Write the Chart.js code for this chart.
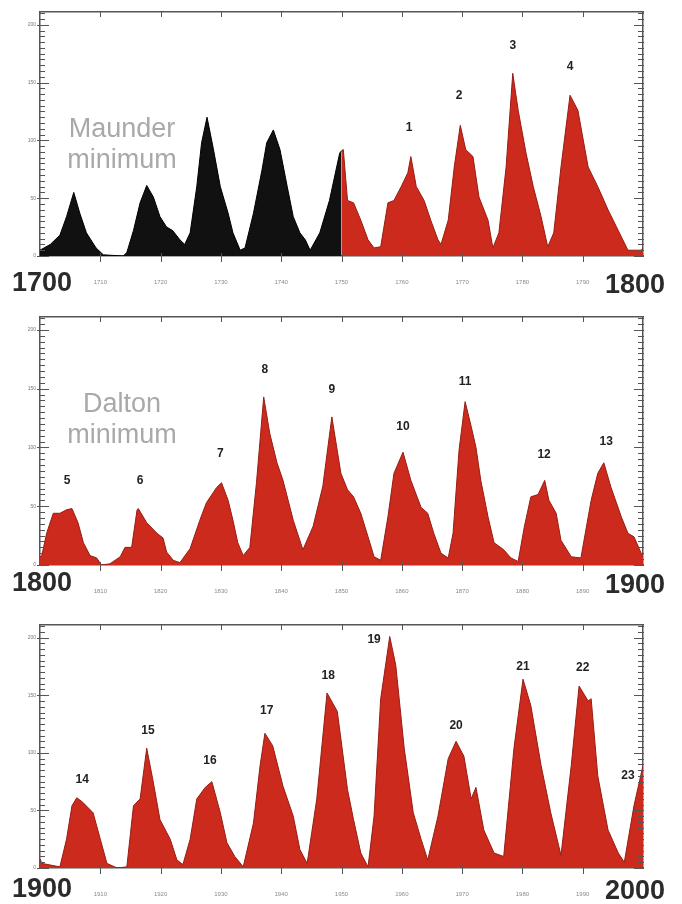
<!DOCTYPE html>
<html>
<head>
<meta charset="utf-8">
<title>Sunspot cycles 1700-2000</title>
<script src="https://cdn.jsdelivr.net/npm/chart.js@4.4.0/dist/chart.umd.min.js"></script>
<style>
  html, body { margin: 0; padding: 0; background: #fff; }
  #wrap { position: relative; width: 682px; height: 904px; overflow: hidden; }
  canvas { position: absolute; left: 0; }
</style>
</head>
<body>
<div id="wrap">
  <canvas id="c1" width="682" height="300" style="top:0"></canvas>
  <canvas id="c2" width="682" height="300" style="top:300px"></canvas>
  <canvas id="c3" width="682" height="304" style="top:600px"></canvas>
</div>
<script>
// --- data: smoothed sunspot number ---
const years1 = [1700, 1701.7, 1703.3, 1704.4, 1705.6, 1706.6, 1707.7, 1709.3, 1710.5, 1713.8, 1714.4, 1715.5, 1716.6, 1717.7, 1718.8, 1719.9,
  1721, 1722, 1723.2, 1724, 1724.9, 1726, 1726.8, 1727.7, 1728.7, 1729.9, 1731.2, 1732, 1733.2, 1734, 1735.4, 1736.8, 1737.6,
  1738.7, 1739.8, 1741, 1742, 1743.1, 1744, 1744.8, 1746.4, 1748, 1749.7, 1750, 1750.3, 1751, 1752, 1753.2, 1754.4, 1755.4,
  1756.5, 1757.7, 1758.7, 1759.9, 1761, 1761.5, 1762.4, 1763.7, 1764.8, 1766, 1766.5, 1767.7, 1768.7, 1769.7, 1770.6, 1771.8,
  1772.8, 1774.3, 1775.1, 1776.1, 1777.3, 1778.4, 1779.3, 1780.6, 1781.8, 1783.1, 1784.2, 1785.2, 1786.4, 1787.9, 1789.2,
  1790.9, 1792.5, 1794.2, 1795.9, 1797.5, 1799.7, 1800];
const ssn1 = [5, 10, 18, 34, 55, 37, 20, 7, 1, 0, 3, 22, 46, 61, 51, 34,
  25, 22, 14, 10, 20, 60, 98, 120, 94, 60, 37, 20, 5, 7, 37, 74, 98,
  109, 92, 60, 34, 20, 14, 5, 20, 48, 89, 91, 92, 48, 46, 31, 14, 7,
  8, 46, 48, 60, 72, 86, 60, 48, 31, 14, 10, 31, 77, 113, 92, 86,
  51, 31, 7, 20, 77, 158, 126, 89, 60, 34, 8, 20, 77, 139, 126,
  77, 60, 40, 22, 5, 5, 7];

const years2 = [1800, 1800.3, 1801.1, 1802.2, 1803.3, 1804.4, 1805.3, 1806.3, 1807.2, 1808.3, 1809.4, 1810.2, 1811.6, 1813.3,
  1814.1, 1815.2, 1816.1, 1816.3, 1817.7, 1819.4, 1820.4, 1821, 1822.1, 1823.2, 1824.9, 1826.5, 1827.6, 1829.3, 1830.1,
  1831.2, 1832, 1832.8, 1833.7, 1834.8, 1835.9, 1837.1, 1838.1, 1839.3, 1840.3, 1842, 1843.6, 1845.3, 1846.9, 1848.4,
  1849.9, 1851, 1852, 1853.2, 1854.4, 1855.4, 1856.5, 1857.7, 1858.7, 1860.2, 1861.5, 1863.2, 1864.3, 1865.3, 1866.5,
  1867.7, 1868.5, 1869.5, 1870.5, 1871.5, 1872.3, 1873.1, 1874.3, 1875.3, 1876.9, 1878.1, 1879.3, 1880.3, 1881.4, 1882.6,
  1883.7, 1884.4, 1885.6, 1886.4, 1888.1, 1889.7, 1891.4, 1892.5, 1893.5, 1894.7, 1896.4, 1897.5, 1898.5, 1899.7, 1900];
const ssn2 = [7, 8, 27, 44, 44, 47, 48, 36, 19, 8, 6, 0, 1, 7,
  15, 15, 47, 48, 36, 27, 23, 11, 4, 2, 14, 38, 53, 66, 70,
  55, 38, 19, 8, 15, 70, 143, 112, 87, 72, 38, 13, 33, 67, 126,
  78, 64, 58, 44, 24, 7, 4, 41, 78, 96, 72, 49, 44, 27, 10,
  6, 27, 98, 139, 118, 100, 72, 41, 19, 13, 6, 3, 32, 58, 60,
  72, 55, 44, 21, 7, 6, 55, 78, 87, 66, 41, 27, 24, 10, 8];

const years3 = [1900, 1900.3, 1903.3, 1904.4, 1905.3, 1906.1, 1907.1, 1908.8, 1910, 1911.1, 1912.8, 1914.4, 1915.5, 1916.6,
  1917.7, 1918.7, 1919.9, 1921.6, 1922.7, 1923.7, 1924.9, 1926, 1927.4, 1928.5, 1929.9, 1931, 1932.3, 1933.7, 1935.4,
  1936.5, 1937.3, 1938.6, 1940.3, 1942, 1943.1, 1944.3, 1945.9, 1947.6, 1949.3, 1949.9, 1951, 1952, 1953.2, 1954.4,
  1955.4, 1956.5, 1958, 1959, 1960.4, 1961.9, 1963.2, 1964.3, 1966, 1967.7, 1969, 1970.3, 1971.5, 1972.3, 1973.6, 1975.3,
  1976.9, 1978.6, 1980.1, 1981.4, 1983.1, 1984.7, 1986.4, 1988.1, 1989.4, 1990.9, 1991.4, 1992.5, 1994.2, 1995.9, 1996.9,
  1998.5, 2000];
const ssn3 = [8, 4, 1, 25, 54, 61, 57, 48, 25, 4, 0, 1, 54, 60,
  104, 77, 42, 25, 7, 3, 25, 60, 70, 75, 48, 22, 10, 1, 39,
  89, 117, 106, 71, 45, 16, 4, 60, 152, 136, 112, 68, 42, 13, 1,
  45, 147, 201, 176, 104, 48, 25, 7, 45, 95, 110, 97, 60, 70, 33, 13,
  10, 104, 164, 141, 89, 48, 11, 89, 158, 145, 147, 80, 33, 13, 5,
  54, 89];

// cycle numbers and where their labels sit (year, sunspot level)
const cycles1 = ['1', '2', '3', '4'];
const cycleYears1 = [1761.2, 1769.5, 1778.4, 1787.9];
const cycleLevels1 = [111, 139, 182, 164];
const cycles2 = ['5', '6', '7', '8', '9', '10', '11', '12', '13'];
const cycleYears2 = [1804.5, 1816.6, 1829.9, 1837.3, 1848.4, 1860.2, 1870.5, 1883.6, 1893.9];
const cycleLevels2 = [72, 72, 95, 166, 149, 118, 156, 94, 105];
const cycles3 = ['14', '15', '16', '17', '18', '19', '20', '21', '22', '23'];
const cycleYears3 = [1907, 1917.9, 1928.2, 1937.6, 1947.8, 1955.4, 1969, 1980.1, 1990, 1997.5];
const cycleLevels3 = [77, 119, 93, 137, 167, 198, 124, 175, 174, 80];

const yMax = 211;
const yStep = 50;
const minorStep = 5;
const xStep = 10;
const maunderEnd = 1750;

Chart.defaults.font.family = '"Liberation Sans", Arial, sans-serif';

const RED = '#cb2a1d';
const RED_EDGE = '#971c12';

function pts(years, vals, keep) {
  const out = [];
  years.forEach((yr, i) => { if (!keep || keep(yr)) out.push({ x: yr, y: vals[i] }); });
  return out;
}

function makePanel(id, start, end, datasets, cfg) {
  const H = document.getElementById(id).height;
  const decor = {
    id: 'decor_' + id,
    afterDraw(chart) {
      const ctx = chart.ctx, a = chart.chartArea;
      const xs = chart.scales.x, ys = chart.scales.y;
      ctx.save();
      // inward axis ticks on both sides
      ctx.strokeStyle = '#555';
      ctx.lineWidth = 1;
      ctx.beginPath();
      for (let v = 0; v <= yMax - 1; v += minorStep) {
        const py = Math.round(ys.getPixelForValue(v)) + 0.5;
        const major = v % yStep === 0;
        ctx.moveTo(a.left - (major ? 3 : 1), py); ctx.lineTo(a.left + (major ? 9 : 5), py);
        ctx.moveTo(a.right - (major ? 9 : 5), py); ctx.lineTo(a.right + 1, py);
      }
      for (let yr = start + xStep; yr < end; yr += xStep) {
        const px = Math.round(xs.getPixelForValue(yr)) + 0.5;
        ctx.moveTo(px, a.bottom - 3); ctx.lineTo(px, a.bottom + 6);
        ctx.moveTo(px, a.top); ctx.lineTo(px, a.top + 5);
      }
      ctx.stroke();

      // cycle numbers
      ctx.fillStyle = '#222';
      ctx.font = 'bold 12px "Liberation Sans", Arial, sans-serif';
      ctx.textAlign = 'center';
      ctx.textBaseline = 'middle';
      cfg.names.forEach((n, i) => {
        ctx.fillText(n, xs.getPixelForValue(cfg.years[i]), ys.getPixelForValue(cfg.levels[i]));
      });

      // period name
      if (cfg.title) {
        ctx.fillStyle = '#a9a9a9';
        ctx.font = '27px "Liberation Sans", Arial, sans-serif';
        ctx.textBaseline = 'alphabetic';
        ctx.fillText(cfg.title[0], 122, cfg.titleY);
        ctx.fillText(cfg.title[1], 122, cfg.titleY + 31);
      }

      // big century labels
      ctx.fillStyle = '#2b2b2b';
      ctx.font = 'bold 27px "Liberation Sans", Arial, sans-serif';
      ctx.textBaseline = 'middle';
      ctx.fillText(String(start), xs.getPixelForValue(start) + 2, a.bottom + cfg.labelDy);
      ctx.fillText(String(end), xs.getPixelForValue(end) - 8, a.bottom + cfg.labelDy + 2);
      ctx.restore();
    }
  };

  const frame = { display: true, color: '#555', width: 1.5 };
  const noGrid = { drawOnChartArea: false, drawTicks: false };

  return new Chart(document.getElementById(id), {
    type: 'line',
    data: { datasets },
    options: {
      responsive: false,
      animation: false,
      events: [],
      layout: { padding: 0 },
      elements: { point: { radius: 0 }, line: { tension: 0, borderWidth: 1 } },
      plugins: { legend: { display: false }, tooltip: { enabled: false } },
      scales: {
        x: {
          type: 'linear', position: 'bottom', min: start, max: end,
          afterFit: s => { s.height = H - cfg.bottom; },
          border: frame, grid: noGrid,
          ticks: {
            stepSize: xStep, autoSkip: false, maxRotation: 0, padding: 23,
            font: { size: 6 }, color: '#8a8a8a',
            callback: v => (v === start || v === end) ? '' : String(v)
          }
        },
        x2: {
          type: 'linear', axis: 'x', position: 'top', min: start, max: end,
          afterFit: s => { s.height = cfg.top; },
          border: frame, grid: noGrid, ticks: { display: false }
        },
        y: {
          type: 'linear', position: 'left', min: 0, max: yMax,
          afterFit: s => { s.width = 40; },
          border: frame, grid: noGrid,
          ticks: { stepSize: yStep, includeBounds: false, padding: 4, font: { size: 5 }, color: '#777' }
        },
        y2: {
          type: 'linear', axis: 'y', position: 'right', min: 0, max: yMax,
          afterFit: s => { s.width = 39; },
          border: frame, grid: noGrid, ticks: { display: false }
        }
      }
    },
    plugins: [decor]
  });
}

makePanel('c1', 1700, 1800, [
  { data: pts(years1, ssn1, yr => yr <= maunderEnd), fill: 'origin', backgroundColor: '#111', borderColor: '#000' },
  { data: pts(years1, ssn1, yr => yr >= maunderEnd), fill: 'origin', backgroundColor: RED, borderColor: RED_EDGE }
], { top: 12, bottom: 256, labelDy: 28, names: cycles1, years: cycleYears1, levels: cycleLevels1,
     title: ['Maunder', 'minimum'], titleY: 137 });

makePanel('c2', 1800, 1900, [
  { data: pts(years2, ssn2), fill: 'origin', backgroundColor: RED, borderColor: RED_EDGE }
], { top: 17, bottom: 265, labelDy: 19, names: cycles2, years: cycleYears2, levels: cycleLevels2,
     title: ['Dalton', 'minimum'], titleY: 112 });

makePanel('c3', 1900, 2000, [
  { data: pts(years3, ssn3), fill: 'origin', backgroundColor: RED, borderColor: RED_EDGE }
], { top: 25, bottom: 268, labelDy: 22, names: cycles3, years: cycleYears3, levels: cycleLevels3 });
</script>
</body>
</html>
